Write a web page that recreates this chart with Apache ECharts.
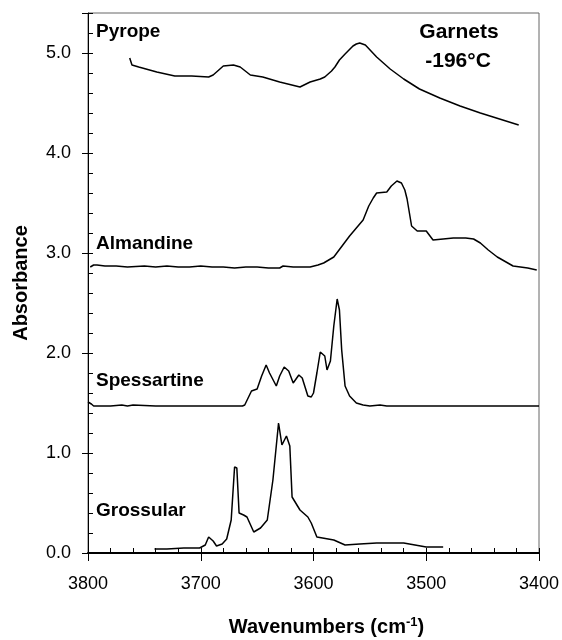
<!DOCTYPE html>
<html>
<head>
<meta charset="utf-8">
<script src="https://cdn.jsdelivr.net/npm/echarts@6/dist/echarts.min.js"></script>
<style>html,body{margin:0;padding:0;background:#fff}#c{width:562px;height:640px}</style>
</head>
<body>
<div id="c"></div>
<script>
// Wavenumbers (cm-1) and absorbance for each garnet spectrum
const pyropeWn = [3763,3761,3755,3739,3723,3708,3693,3689,3686,3680,3671,3665,3656,3645,3630,3612,3603,3594,3590,3584,3581,3577,3572,3565,3562,3559,3554,3549,3544,3538,3532,3520,3506,3488,3470,3452,3435,3418];
const pyropeAbs = [4.95,4.88,4.86,4.81,4.77,4.77,4.76,4.78,4.81,4.87,4.88,4.86,4.78,4.76,4.71,4.66,4.71,4.74,4.76,4.82,4.86,4.93,4.99,5.07,5.09,5.10,5.08,5.02,4.96,4.90,4.84,4.74,4.64,4.55,4.47,4.40,4.34,4.28];

const almandineWn = [3798,3795,3792,3785,3775,3765,3750,3740,3730,3720,3710,3700,3690,3680,3670,3660,3650,3640,3630,3627,3618,3603,3596,3591,3582,3574,3568,3562,3556,3551,3547,3544,3535,3531,3526,3522,3519,3517,3513,3508,3500,3494,3485,3476,3465,3458,3452,3445,3437,3423,3410,3402];
const almandineAbs = [2.86,2.88,2.88,2.87,2.87,2.86,2.87,2.86,2.87,2.86,2.86,2.87,2.86,2.86,2.85,2.86,2.86,2.85,2.85,2.87,2.86,2.86,2.88,2.90,2.96,3.08,3.17,3.25,3.33,3.47,3.55,3.60,3.61,3.67,3.72,3.70,3.63,3.54,3.27,3.22,3.22,3.13,3.14,3.15,3.15,3.14,3.10,3.03,2.96,2.87,2.85,2.83];

const spessartineWn = [3800,3797,3795,3780,3770,3765,3760,3740,3700,3674,3663,3661,3655,3650,3646,3642,3639,3633,3630,3626,3622,3618,3613,3610,3605,3602,3600,3597,3594,3590,3588,3585,3582,3579,3577,3575,3572,3568,3562,3556,3550,3541,3535,3450,3400];
const spessartineAbs = [1.51,1.49,1.47,1.47,1.48,1.47,1.48,1.47,1.47,1.47,1.47,1.48,1.62,1.64,1.77,1.88,1.80,1.67,1.77,1.86,1.82,1.70,1.78,1.75,1.57,1.56,1.60,1.80,2.01,1.97,1.83,1.92,2.27,2.54,2.43,2.03,1.67,1.57,1.50,1.48,1.47,1.48,1.47,1.47,1.47];

const grossularWn = [3741,3730,3715,3701,3696,3693,3689,3686,3681,3677,3673,3670,3668,3666,3662,3659,3653,3647,3641,3636,3631,3628,3624,3621,3619,3612,3605,3602,3597,3582,3572,3559,3544,3520,3500,3485];
const grossularAbs = [0.04,0.04,0.05,0.05,0.08,0.16,0.12,0.07,0.09,0.14,0.33,0.86,0.85,0.40,0.38,0.36,0.21,0.25,0.33,0.73,1.30,1.08,1.17,1.07,0.56,0.43,0.36,0.30,0.16,0.13,0.08,0.09,0.10,0.10,0.06,0.06];

const seriesNames = ['Pyrope','Almandine','Spessartine','Grossular'];
const xTitle = 'Wavenumbers (cm';
const xTitleSup = '-1';
const yTitle = 'Absorbance';
const noteLines = ['Garnets','-196°C'];

const FONT = '"Liberation Sans", Arial, sans-serif';
const zip = (a,b) => a.map((v,i)=>[v,b[i]]);
const sets = [[pyropeWn,pyropeAbs],[almandineWn,almandineAbs],[spessartineWn,spessartineAbs],[grossularWn,grossularAbs]];

const chart = echarts.init(document.getElementById('c'), null, {renderer:'canvas'});
chart.setOption({
  animation: false,
  backgroundColor: '#fff',
  grid: {left: 88, right: 23, top: 13, bottom: 87, containLabel: false, outerBoundsMode: 'none',
         show: true, borderColor: '#666', borderWidth: 1},
  xAxis: [{
    type: 'value', inverse: true, min: 3400, max: 3800, interval: 100,
    axisLine: {show: true, onZero: false, lineStyle: {color: '#000', width: 2}},
    axisTick: {show: true, inside: false, length: 8, lineStyle: {color: '#000'}},
    axisLabel: {color: '#000', fontSize: 18, fontFamily: FONT, margin: 22, formatter: v => String(v)},
    splitLine: {show: false},
    name: '{a|' + xTitle + '}{s|' + xTitleSup + '}{a|)}',
    nameLocation: 'middle', nameGap: 63,
    nameTextStyle: {padding: [0,0,0,26], rich: {
      a: {fontSize: 20, fontWeight: 'bold', fontFamily: FONT, color: '#000'},
      s: {fontSize: 13, fontWeight: 'bold', fontFamily: FONT, color: '#000', verticalAlign: 'top', padding: [0,0,10,0]}
    }}
  },{
    type: 'value', inverse: true, min: 3400, max: 3800, interval: 20, position: 'bottom',
    axisLine: {show: false}, axisLabel: {show: false}, splitLine: {show: false},
    axisTick: {show: true, inside: true, length: 5, lineStyle: {color: '#000'}}
  }],
  yAxis: [{
    type: 'value', min: 0, max: 5.4, interval: 1,
    axisLine: {show: true, onZero: false, lineStyle: {color: '#000', width: 1}},
    axisTick: {show: true, inside: false, length: 6, lineStyle: {color: '#000'}},
    axisLabel: {color: '#000', fontSize: 18, fontFamily: FONT, margin: 17,
      formatter: v => (Math.abs(v - Math.round(v)) < 1e-9 ? v.toFixed(1) : '')},
    splitLine: {show: false},
    name: yTitle, nameLocation: 'middle', nameGap: 57, nameRotate: 90,
    nameTextStyle: {fontSize: 20, fontWeight: 'bold', fontFamily: FONT, color: '#000'}
  },{
    type: 'value', min: 0, max: 5.4, interval: 0.2, position: 'left',
    axisLine: {show: false}, axisLabel: {show: false}, splitLine: {show: false},
    axisTick: {show: true, inside: true, length: 5, lineStyle: {color: '#000'}}
  }],
  series: sets.map((s,i)=>({
    type: 'line', name: seriesNames[i], data: zip(s[0], s[1]),
    showSymbol: false, symbol: 'none', smooth: false,
    lineStyle: {color: '#000', width: 1.5}
  })),
  graphic: [
    {type:'text', left: 96, top: 22, style:{text: seriesNames[0], font: 'bold 19px ' + FONT, fill:'#000'}},
    {type:'text', left: 96, top: 234, style:{text: seriesNames[1], font: 'bold 19px ' + FONT, fill:'#000'}},
    {type:'text', left: 96, top: 371, style:{text: seriesNames[2], font: 'bold 19px ' + FONT, fill:'#000'}},
    {type:'text', left: 96, top: 501, style:{text: seriesNames[3], font: 'bold 19px ' + FONT, fill:'#000'}},
    {type:'text', x: 459, y: 22, style:{text: noteLines[0], font: 'bold 21px ' + FONT, fill:'#000', textAlign:'center'}},
    {type:'text', x: 458, y: 51, style:{text: noteLines[1], font: 'bold 21px ' + FONT, fill:'#000', textAlign:'center'}}
  ]
});
</script>
</body>
</html>
